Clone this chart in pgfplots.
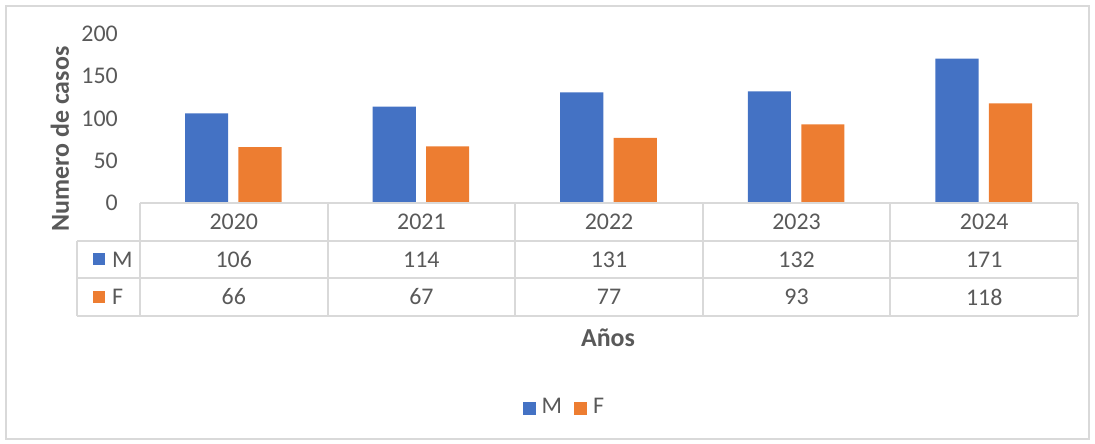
\documentclass[border=0pt]{standalone}
\usepackage{fontspec}
\setmainfont{Carlito}
\usepackage{pgfplots}
\pgfplotsset{compat=1.18}
\definecolor{cblue}{HTML}{4472C4}
\definecolor{corange}{HTML}{ED7D31}
\definecolor{ctext}{HTML}{595959}
\definecolor{cline}{HTML}{D9D9D9}
\begin{document}
\fontsize{24}{28}\selectfont
\begin{tikzpicture}[every node/.style={text=ctext}]
\begin{scope}[x=1bp,y=-1bp]
\path (0,0) rectangle (1095,444);
\draw[cline, line width=1.5bp] (6,6) rectangle (1089,439);
\end{scope}
\begin{axis}[
 at={(140bp,-203bp)}, anchor=south west,
 scale only axis, width=938bp, height=169bp,
 xmin=-0.5, xmax=4.5, ymin=0, ymax=200,
 ytick={0,50,100,150,200}, xtick=\empty,
 axis line style={draw=none}, major tick length=0,
 /pgf/number format/assume math mode=true,
 tick label style={font=\fontsize{24}{28}\selectfont, text=ctext},
 yticklabel style={xshift=-14bp},
 ybar, bar width=0.23,
 clip=false,
 ylabel={Numero de casos},
 ylabel style={font=\bfseries\fontsize{26}{30}\selectfont, text=ctext, at={(axis description cs:-0.0853,0.379)}, anchor=center},
 xlabel={Años},
 xlabel style={font=\bfseries\fontsize{26}{30}\selectfont, text=ctext, at={(axis description cs:0.499,-0.799)}, anchor=center},
 legend style={at={(0.4525,-1.213)}, anchor=center, draw=none, fill=none, legend columns=2, font=\fontsize{24}{28}\selectfont, text=ctext,
   /tikz/every even column/.append style={column sep=10bp},
   /tikz/every odd column/.append style={column sep=4bp}},
 legend image code/.code={\fill[#1] (0bp,-6.5bp) rectangle (13bp,6.5bp);},
]
\addplot[fill=cblue, draw=none, bar shift=-0.145] coordinates {(0,106) (1,114) (2,131) (3,132) (4,171)};
\addplot[fill=corange, draw=none, bar shift=0.14] coordinates {(0,66) (1,67) (2,77) (3,93) (4,118)};
\legend{M,F}
\node at (axis cs:0,-22.5) {2020};
\node at (axis cs:1,-22.5) {2021};
\node at (axis cs:2,-22.5) {2022};
\node at (axis cs:3,-22.5) {2023};
\node at (axis cs:4,-22.5) {2024};
\node at (axis cs:0,-66.8) {106};
\node at (axis cs:1,-66.8) {114};
\node at (axis cs:2,-66.8) {131};
\node at (axis cs:3,-66.8) {132};
\node at (axis cs:4,-66.8) {171};
\node at (axis cs:0,-111.2) {66};
\node at (axis cs:1,-111.2) {67};
\node at (axis cs:2,-111.2) {77};
\node at (axis cs:3,-111.2) {93};
\node at (axis cs:4,-111.2) {118};
\end{axis}
\begin{scope}[x=1bp,y=-1bp]
\draw[cline, line width=2bp] (140,203) -- (1078,203);
\draw[cline, line width=2bp] (77,241) -- (1078,241);
\draw[cline, line width=2bp] (77,278) -- (1078,278);
\draw[cline, line width=2bp] (77,316) -- (1078,316);
\draw[cline, line width=2bp] (77,241) -- (77,316);
\foreach \x in {140,328,515,703,890,1078} \draw[cline, line width=2bp] (\x,203) -- (\x,316);
\fill[cblue] (93,253.5) rectangle (105,265.5);
\fill[corange] (93,291) rectangle (105,303);
\node[anchor=west, inner sep=0pt] at (112,259.5) {M};
\node[anchor=west, inner sep=0pt] at (112,297) {F};
\end{scope}
\end{tikzpicture}
\end{document}
